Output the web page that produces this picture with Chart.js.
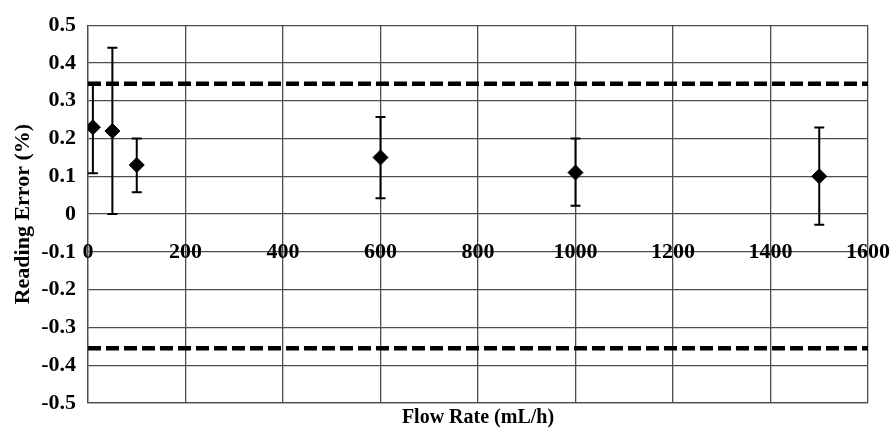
<!DOCTYPE html>
<html>
<head>
<meta charset="utf-8">
<script src="https://cdn.jsdelivr.net/npm/chart.js@4.4.1/dist/chart.umd.min.js"></script>
<style>
  html, body { margin: 0; padding: 0; background: #fff; }
  #wrap { width: 891px; height: 430px; }
</style>
</head>
<body>
<div id="wrap"><canvas id="grafico"></canvas></div>
<script>
// datos
const flowRates = [10, 50, 100, 600, 1000, 1500];
const readingErrors = [0.23, 0.22, 0.13, 0.15, 0.11, 0.10];
const errorHigh = [0.345, 0.44, 0.20, 0.257, 0.20, 0.229];
const errorLow = [0.108, 0.0, 0.058, 0.042, 0.022, -0.028];

const upperLimit = 0.345;
const lowerLimit = -0.355;

const xTicks = [0, 200, 400, 600, 800, 1000, 1200, 1400, 1600];
const yTicks = [-0.5, -0.4, -0.3, -0.2, -0.1, 0, 0.1, 0.2, 0.3, 0.4, 0.5];
const yTickLabels = ["-0.5", "-0.4", "-0.3", "-0.2", "-0.1", "0", "0.1", "0.2", "0.3", "0.4", "0.5"];
const xLabelLevel = -0.1; // las etiquetas del eje X van sobre esta linea

const serif = '"Liberation Serif", "Times New Roman", serif';

// barras de error
const errorBars = {
  id: "errorBars",
  beforeDatasetsDraw(chart) {
    const { ctx, scales: { x, y } } = chart;
    ctx.save();
    ctx.strokeStyle = "#000";
    ctx.lineWidth = 2;
    for (let i = 0; i < flowRates.length; i++) {
      const px = x.getPixelForValue(flowRates[i]);
      const top = y.getPixelForValue(errorHigh[i]);
      const bot = y.getPixelForValue(errorLow[i]);
      ctx.beginPath();
      ctx.moveTo(px, top); ctx.lineTo(px, bot);
      ctx.moveTo(px - 5, top); ctx.lineTo(px + 5, top);
      ctx.moveTo(px - 5, bot); ctx.lineTo(px + 5, bot);
      ctx.stroke();
    }
    ctx.restore();
  }
};

// etiquetas del eje X dibujadas sobre la linea -0.1
const xLabels = {
  id: "xLabels",
  afterDraw(chart) {
    const { ctx, scales: { x, y } } = chart;
    const py = y.getPixelForValue(xLabelLevel);
    ctx.save();
    ctx.font = "bold 22px " + serif;
    ctx.fillStyle = "#000";
    ctx.textAlign = "center";
    ctx.textBaseline = "middle";
    xTicks.forEach(v => {
      ctx.fillText(String(v), x.getPixelForValue(v), py);
    });
    ctx.restore();
  }
};

const gridColor = "#4d4d4d";

new Chart(document.getElementById("grafico"), {
  type: "scatter",
  data: {
    datasets: [
      {
        label: "Reading Error",
        data: flowRates.map((f, i) => ({ x: f, y: readingErrors[i] })),
        pointStyle: "rectRot",
        pointRadius: 7.5,
        pointHoverRadius: 7.5,
        backgroundColor: "#000",
        borderColor: "#000",
        showLine: false
      },
      {
        label: "Upper",
        type: "line",
        data: [{ x: xTicks[0], y: upperLimit }, { x: xTicks[xTicks.length - 1], y: upperLimit }],
        borderColor: "#000",
        borderWidth: 4.5,
        borderDash: [13, 5],
        pointRadius: 0
      },
      {
        label: "Lower",
        type: "line",
        data: [{ x: xTicks[0], y: lowerLimit }, { x: xTicks[xTicks.length - 1], y: lowerLimit }],
        borderColor: "#000",
        borderWidth: 4.5,
        borderDash: [13, 5],
        pointRadius: 0
      }
    ]
  },
  options: {
    responsive: true,
    maintainAspectRatio: false,
    animation: false,
    layout: { padding: { top: 23, right: 23, bottom: 0, left: 0 } },
    plugins: {
      legend: { display: false },
      tooltip: { enabled: false }
    },
    scales: {
      x: {
        type: "linear",
        min: 0,
        max: 1600,
        afterBuildTicks: s => { s.ticks = xTicks.map(v => ({ value: v })); },
        afterFit: s => { s.height = 27; },
        ticks: { display: false },
        grid: { color: gridColor, lineWidth: 1.3, drawTicks: false },
        border: { color: gridColor, width: 1.3 },
        title: {
          display: true,
          text: "Flow Rate (mL/h)",
          color: "#000",
          font: { family: serif, size: 20, weight: "bold", lineHeight: 1.2 },
          padding: { top: 0, bottom: 0 }
        }
      },
      y: {
        min: -0.5,
        max: 0.5,
        afterBuildTicks: s => { s.ticks = yTicks.map(v => ({ value: v })); },
        afterFit: s => { s.width = 88; },
        ticks: {
          padding: 12,
          color: "#000",
          font: { family: serif, size: 22, weight: "bold" },
          callback: (v, i) => yTickLabels[i]
        },
        grid: { color: gridColor, lineWidth: 1.3, drawTicks: false },
        border: { color: gridColor, width: 1.3 },
        title: {
          display: true,
          text: "Reading Error (%)",
          color: "#000",
          font: { family: serif, size: 22, weight: "bold", lineHeight: 1.2 },
          padding: { top: 10, bottom: 0 }
        }
      }
    }
  },
  plugins: [errorBars, xLabels]
});
</script>
</body>
</html>
